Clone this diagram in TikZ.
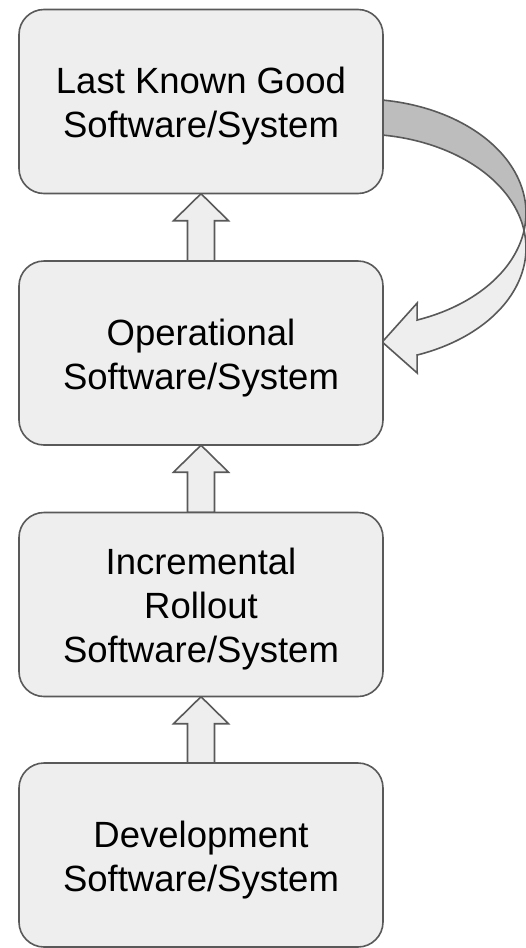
\documentclass[tikz,border=0pt]{standalone}
\usepackage{fontspec}
\setmainfont{Liberation Sans}
\usetikzlibrary{calc}
\definecolor{boxfill}{HTML}{EEEEEE}
\definecolor{edge}{HTML}{595959}
\definecolor{backside}{HTML}{BDBDBD}
\tikzset{
  stagebox/.style={draw=edge, fill=boxfill, line width=1.6pt, rounded corners=25pt,
    minimum width=364pt, minimum height=184pt, inner sep=0pt},
  stagetext/.style={align=center, inner sep=0pt, font=\fontsize{36.5}{44}\selectfont},
  blockarrow/.style={draw=edge, fill=boxfill, line width=1.6pt, line join=miter},
  backpart/.style={draw=edge, fill=backside, line width=1.6pt},
  frontpart/.style={draw=edge, fill=boxfill, line width=1.6pt, line join=miter}
}
\begin{document}
\begin{tikzpicture}[x=1pt,y=-1pt]
\useasboundingbox (0,0) rectangle (526,948);
% boxes (positions first, drawn later on top)
\path (201,101.5) coordinate (p1) (201,353) coordinate (p2) (201,604.5) coordinate (p3) (201,855) coordinate (p4);
\path (p1) node[minimum width=364pt, minimum height=184pt, inner sep=0pt] (b1) {};
\path (p2) node[minimum width=364pt, minimum height=184pt, inner sep=0pt] (b2) {};
\path (p3) node[minimum width=364pt, minimum height=184pt, inner sep=0pt] (b3) {};
\path (p4) node[minimum width=364pt, minimum height=184pt, inner sep=0pt] (b4) {};
% curved arrow from b1 to b2
\coordinate (tip) at ($(b2.east)+(-1,-11)$);
\draw[backpart] (383,100)
  -- plot[domain=-82:8.83, samples=50, variable=\t] ({360+166*cos(\t)}, {213+114*sin(\t)})
  -- plot[domain=-8.83:-82, samples=50, variable=\t] ({360+166*cos(\t)}, {248+114*sin(\t)})
  -- cycle;
\draw[frontpart] (524.1,230.5)
  -- plot[domain=8.83:69.9, samples=50, variable=\t] ({360+166*cos(\t)}, {213+114*sin(\t)})
  -- ($(tip)+(35,-39)$) -- (tip) -- ($(tip)+(35,31)$)
  -- plot[domain=69.9:-8.83, samples=50, variable=\t] ({360+166*cos(\t)}, {248+114*sin(\t)})
  -- cycle;
% straight block arrows
\foreach \lo/\hi in {b2/b1, b3/b2, b4/b3}{
  \draw[blockarrow] ($(\lo.north)+(-13.5,0)$) -- ($(\hi.south)+(-13.5,27)$) -- ($(\hi.south)+(-27.5,27)$)
    -- (\hi.south) -- ($(\hi.south)+(27.5,27)$) -- ($(\hi.south)+(13.5,27)$) -- ($(\lo.north)+(13.5,0)$) -- cycle;
}
% boxes drawn on top
\node[stagebox] (s1) at (b1) {};
\node[stagebox] (s2) at (b2) {};
\node[stagebox] (s3) at (b3) {};
\node[stagebox] (s4) at (b4) {};
\node[stagetext] (t1) at ($(b1.center)+(0,5)$) {Last Known Good\\Software/System};
\node[stagetext] (t2) at ($(b2.center)+(0,5)$) {Operational\\Software/System};
\node[stagetext] (t3) at ($(b3.center)+(0,5)$) {Incremental\\Rollout\\Software/System};
\node[stagetext] (t4) at ($(b4.center)+(0,5)$) {Development\\Software/System};
\end{tikzpicture}
\end{document}
